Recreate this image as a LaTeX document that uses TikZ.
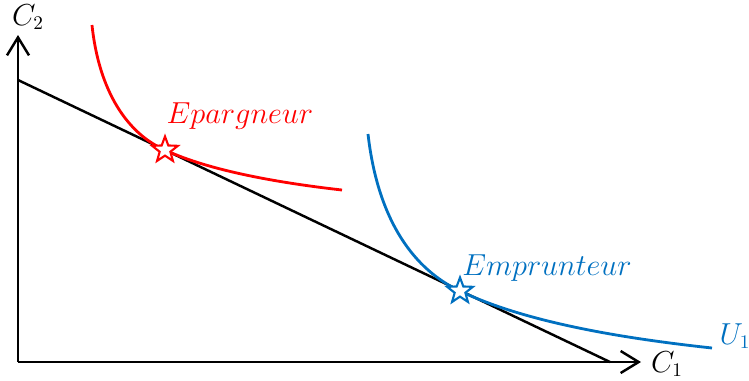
\documentclass[tikz,border=0pt]{standalone}
\usepackage{tikz}
\usetikzlibrary{arrows.meta,shapes.geometric}
\definecolor{epred}{RGB}{255,0,0}
\definecolor{emblue}{RGB}{0,112,192}
\tikzset{
  axis/.style={line width=1.4pt,-{Straight Barb[length=0.36cm,width=0.44cm,line width=1.4pt]}},
  optstar/.style={star,star points=5,star point ratio=2.4,minimum size=0.54cm,inner sep=0pt,
    draw,line width=1.2pt,fill=white},
  lbl/.style={font=\fontsize{16}{19}\selectfont},
}
\begin{document}
\begin{tikzpicture}[x=0.02cm,y=-0.02cm]
\useasboundingbox (0,0) rectangle (749,380);

% Axes
\coordinate (O) at (18,362);
\coordinate (ytop) at (18,35);
\coordinate (xend) at (641,362);
\draw[axis] (O) -- (ytop);
\draw[axis] (O) -- (xend);
\node[lbl,inner sep=1pt] (c2) at (28,17) {$C_2$};
\node[lbl,inner sep=1pt] (c1) at (667,364) {$C_1$};

% Budget line
\coordinate (b0) at (18,80);
\coordinate (b1) at (610,362);
\draw[line width=1.4pt] (b0) -- (b1);

% Indifference curve of the saver
\coordinate (sv) at (165,150);
\draw[epred,line width=1.6pt] (92,25) .. controls (99,92) and (128,134) .. (sv)
  .. controls (210,171) and (280,183) .. (342,190);

% Indifference curve of the borrower
\coordinate (bw) at (460,291);
\draw[emblue,line width=1.6pt] (368,134) .. controls (378,222) and (415,270) .. (bw)
  .. controls (525,322) and (620,338) .. (712,348);

% Optimal points
\node[optstar,draw=epred] (s1) at (sv) {};
\node[optstar,draw=emblue] (s2) at (bw) {};
\node[lbl,text=epred] (ep) at (240,116) {$Epargneur$};
\node[lbl,text=emblue] (em) at (547,268) {$Emprunteur$};
\node[lbl,text=emblue] (u1) at (735,336) {$U_1$};

\end{tikzpicture}
\end{document}
